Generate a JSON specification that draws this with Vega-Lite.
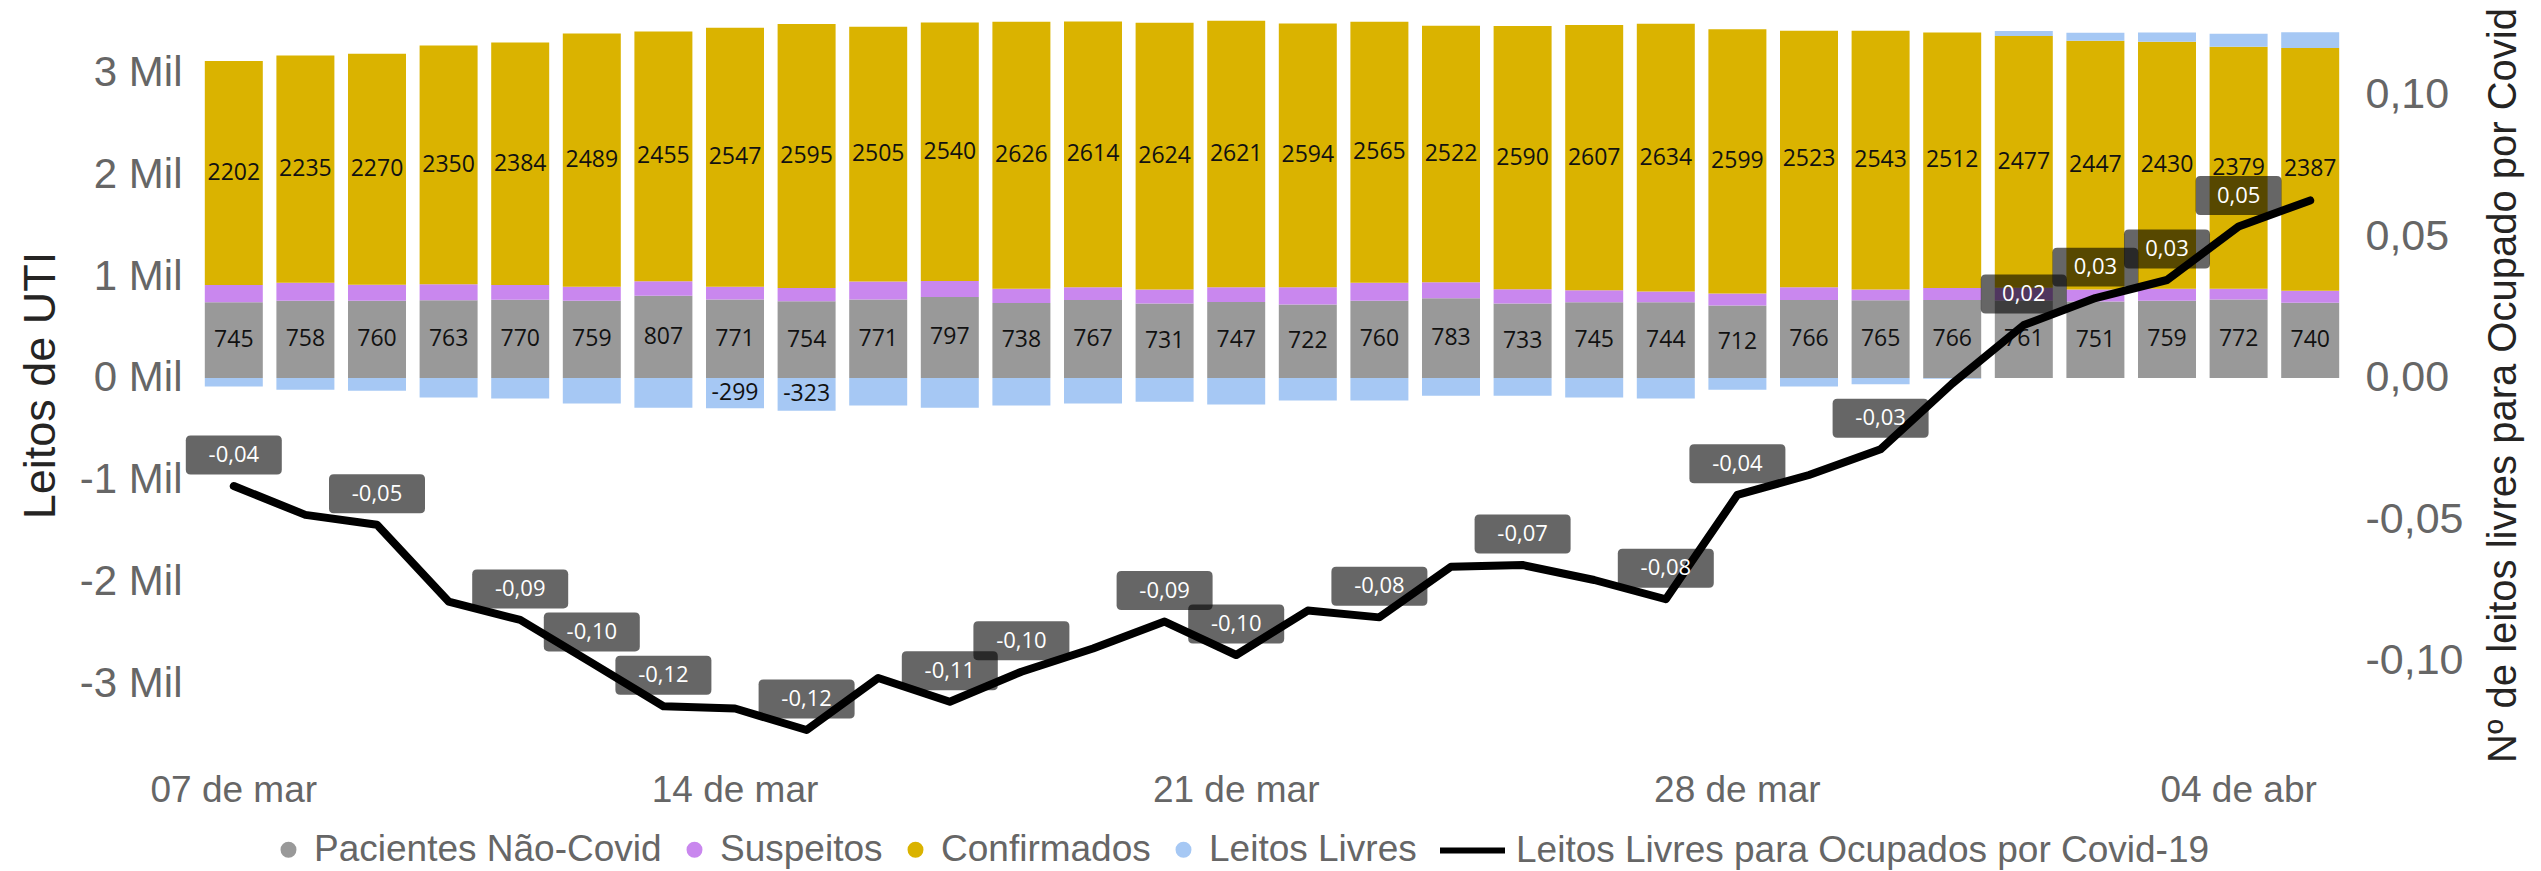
{
  "$schema": "https://vega.github.io/schema/vega-lite/v6.json",
  "width": 2148,
  "height": 750,
  "autosize": {"type": "none"},
  "padding": {"left": 198, "top": 10, "right": 195, "bottom": 111},
  "background": "white",
  "config": {
    "view": {"stroke": null},
    "font": "Liberation Sans",
    "locale": {"number": {"decimal": ",", "thousands": ".", "grouping": [3], "currency": ["R$", ""], "minus": "-"}}
  },
  "data": {"values": [
    {"dia": "07 de mar", "Pacientes Não-Covid": 745, "Suspeitos": 170, "Confirmados": 2202, "Leitos Livres": -85, "razao": -0.0382, "rotulo": true},
    {"dia": "08 de mar", "Pacientes Não-Covid": 758, "Suspeitos": 177, "Confirmados": 2235, "Leitos Livres": -115, "razao": -0.0484, "rotulo": false},
    {"dia": "09 de mar", "Pacientes Não-Covid": 760, "Suspeitos": 157, "Confirmados": 2270, "Leitos Livres": -125, "razao": -0.0519, "rotulo": true},
    {"dia": "10 de mar", "Pacientes Não-Covid": 763, "Suspeitos": 157, "Confirmados": 2350, "Leitos Livres": -193, "razao": -0.0790, "rotulo": false},
    {"dia": "11 de mar", "Pacientes Não-Covid": 770, "Suspeitos": 144, "Confirmados": 2384, "Leitos Livres": -203, "razao": -0.0855, "rotulo": true},
    {"dia": "12 de mar", "Pacientes Não-Covid": 759, "Suspeitos": 138, "Confirmados": 2489, "Leitos Livres": -252, "razao": -0.1007, "rotulo": true},
    {"dia": "13 de mar", "Pacientes Não-Covid": 807, "Suspeitos": 144, "Confirmados": 2455, "Leitos Livres": -292, "razao": -0.1160, "rotulo": true},
    {"dia": "14 de mar", "Pacientes Não-Covid": 771, "Suspeitos": 125, "Confirmados": 2547, "Leitos Livres": -299, "razao": -0.1168, "rotulo": false},
    {"dia": "15 de mar", "Pacientes Não-Covid": 754, "Suspeitos": 131, "Confirmados": 2595, "Leitos Livres": -323, "razao": -0.1244, "rotulo": true},
    {"dia": "16 de mar", "Pacientes Não-Covid": 771, "Suspeitos": 177, "Confirmados": 2505, "Leitos Livres": -272, "razao": -0.1060, "rotulo": false},
    {"dia": "17 de mar", "Pacientes Não-Covid": 797, "Suspeitos": 157, "Confirmados": 2540, "Leitos Livres": -292, "razao": -0.1144, "rotulo": true},
    {"dia": "18 de mar", "Pacientes Não-Covid": 738, "Suspeitos": 138, "Confirmados": 2626, "Leitos Livres": -272, "razao": -0.1038, "rotulo": true},
    {"dia": "19 de mar", "Pacientes Não-Covid": 767, "Suspeitos": 125, "Confirmados": 2614, "Leitos Livres": -252, "razao": -0.0956, "rotulo": false},
    {"dia": "20 de mar", "Pacientes Não-Covid": 731, "Suspeitos": 138, "Confirmados": 2624, "Leitos Livres": -233, "razao": -0.0861, "rotulo": true},
    {"dia": "21 de mar", "Pacientes Não-Covid": 747, "Suspeitos": 144, "Confirmados": 2621, "Leitos Livres": -262, "razao": -0.0979, "rotulo": true},
    {"dia": "22 de mar", "Pacientes Não-Covid": 722, "Suspeitos": 170, "Confirmados": 2594, "Leitos Livres": -223, "razao": -0.0822, "rotulo": false},
    {"dia": "23 de mar", "Pacientes Não-Covid": 760, "Suspeitos": 177, "Confirmados": 2565, "Leitos Livres": -223, "razao": -0.0846, "rotulo": true},
    {"dia": "24 de mar", "Pacientes Não-Covid": 783, "Suspeitos": 157, "Confirmados": 2522, "Leitos Livres": -174, "razao": -0.0667, "rotulo": false},
    {"dia": "25 de mar", "Pacientes Não-Covid": 733, "Suspeitos": 138, "Confirmados": 2590, "Leitos Livres": -174, "razao": -0.0661, "rotulo": true},
    {"dia": "26 de mar", "Pacientes Não-Covid": 745, "Suspeitos": 118, "Confirmados": 2607, "Leitos Livres": -193, "razao": -0.0714, "rotulo": false},
    {"dia": "27 de mar", "Pacientes Não-Covid": 744, "Suspeitos": 105, "Confirmados": 2634, "Leitos Livres": -203, "razao": -0.0782, "rotulo": true},
    {"dia": "28 de mar", "Pacientes Não-Covid": 712, "Suspeitos": 118, "Confirmados": 2599, "Leitos Livres": -115, "razao": -0.0413, "rotulo": true},
    {"dia": "29 de mar", "Pacientes Não-Covid": 766, "Suspeitos": 125, "Confirmados": 2523, "Leitos Livres": -85, "razao": -0.0343, "rotulo": false},
    {"dia": "30 de mar", "Pacientes Não-Covid": 765, "Suspeitos": 105, "Confirmados": 2543, "Leitos Livres": -62, "razao": -0.0252, "rotulo": true},
    {"dia": "31 de mar", "Pacientes Não-Covid": 766, "Suspeitos": 118, "Confirmados": 2512, "Leitos Livres": -8, "razao": -0.0020, "rotulo": false},
    {"dia": "01 de abr", "Pacientes Não-Covid": 761, "Suspeitos": 125, "Confirmados": 2477, "Leitos Livres": 49, "razao": 0.0187, "rotulo": true},
    {"dia": "02 de abr", "Pacientes Não-Covid": 751, "Suspeitos": 118, "Confirmados": 2447, "Leitos Livres": 79, "razao": 0.0282, "rotulo": true},
    {"dia": "03 de abr", "Pacientes Não-Covid": 759, "Suspeitos": 118, "Confirmados": 2430, "Leitos Livres": 89, "razao": 0.0346, "rotulo": true},
    {"dia": "04 de abr", "Pacientes Não-Covid": 772, "Suspeitos": 105, "Confirmados": 2379, "Leitos Livres": 128, "razao": 0.0535, "rotulo": true},
    {"dia": "05 de abr", "Pacientes Não-Covid": 740, "Suspeitos": 118, "Confirmados": 2387, "Leitos Livres": 155, "razao": 0.0627, "rotulo": false}
  ]},
  "layer": [
    {
      "transform": [
        {"fold": ["Pacientes Não-Covid", "Suspeitos", "Confirmados", "Leitos Livres"], "as": ["serie", "valor"]},
        {"calculate": "indexof(['Pacientes Não-Covid', 'Suspeitos', 'Confirmados', 'Leitos Livres'], datum.serie)", "as": "ordem"},
        {"stack": "valor", "groupby": ["dia"], "sort": [{"field": "ordem", "order": "ascending"}], "as": ["v0", "v1"], "offset": "zero"},
        {"calculate": "(datum.v0 + datum.v1) / 2", "as": "meio"}
      ],
      "layer": [
        {
          "mark": {"type": "bar"},
          "encoding": {
            "x": {
              "field": "dia", "type": "nominal", "sort": null,
              "scale": {"paddingInner": 0.19, "paddingOuter": 0.095},
              "axis": {
                "title": null,
                "values": ["07 de mar", "14 de mar", "21 de mar", "28 de mar", "04 de abr"],
                "labelAngle": 0, "labelFontSize": 37, "labelColor": "#666666",
                "ticks": false, "domain": false, "labelPadding": 12
              }
            },
            "y": {
              "field": "v0", "type": "quantitative",
              "scale": {"domain": [-3757, 3618], "nice": false, "zero": false},
              "axis": {
                "title": "Leitos de UTI",
                "values": [-3000, -2000, -1000, 0, 1000, 2000, 3000],
                "labelExpr": "format(datum.value / 1000, 'd') + ' Mil'",
                "labelFontSize": 42, "labelColor": "#666666",
                "grid": false, "ticks": false, "domain": false, "labelPadding": 16,
                "titleFontSize": 45, "titleColor": "#252423", "titleFontWeight": "normal", "titlePadding": 16
              }
            },
            "y2": {"field": "v1"},
            "color": {
              "field": "serie", "type": "nominal",
              "scale": {
                "domain": ["Pacientes Não-Covid", "Suspeitos", "Confirmados", "Leitos Livres"],
                "range": ["#999999", "#C987EE", "#DAB300", "#A6C8F4"]
              },
              "legend": {
                "orient": "none", "legendX": 72, "legendY": 821, "direction": "horizontal",
                "title": null, "symbolType": "circle", "symbolSize": 254, "symbolStrokeWidth": 0,
                "labelFontSize": 37, "labelColor": "#666666", "labelOffset": 7,
                "columnPadding": 14, "labelLimit": 1000
              }
            }
          }
        },
        {
          "transform": [{"filter": "datum.serie == 'Pacientes Não-Covid' || datum.serie == 'Confirmados' || datum.valor <= -295"}],
          "mark": {"type": "text", "fontSize": 23, "font": "Open Sans", "color": "#111111", "baseline": "middle"},
          "encoding": {
            "x": {"field": "dia", "type": "nominal", "sort": null},
            "y": {"field": "meio", "type": "quantitative"},
            "text": {"field": "valor", "type": "quantitative", "format": "d"}
          }
        }
      ]
    },
    {
      "layer": [
        {
          "mark": {"type": "line", "strokeWidth": 8, "strokeCap": "round", "strokeJoin": "round"},
          "encoding": {
            "x": {"field": "dia", "type": "nominal", "sort": null},
            "y": {
              "field": "razao", "type": "quantitative",
              "scale": {"domain": [-0.135, 0.130], "nice": false, "zero": false},
              "axis": {
                "orient": "right",
                "title": "Nº de leitos livres para Ocupado por Covid",
                "values": [-0.1, -0.05, 0, 0.05, 0.1],
                "format": ".2f",
                "labelFontSize": 43, "labelColor": "#666666",
                "grid": false, "ticks": false, "domain": false, "labelPadding": 19,
                "titleFontSize": 40, "titleColor": "#252423", "titleFontWeight": "normal",
                "titleAngle": 270, "titlePadding": 60
              }
            },
            "stroke": {
              "datum": "Leitos Livres para Ocupados por Covid-19", "type": "nominal",
              "scale": {"range": ["#000000"]},
              "legend": {
                "orient": "none", "legendX": 1239, "legendY": 805,
                "title": null, "symbolType": "stroke", "symbolSize": 4225, "symbolStrokeWidth": 6,
                "labelFontSize": 37, "labelColor": "#666666", "labelOffset": 8, "labelLimit": 1000
              }
            }
          }
        },
        {
          "transform": [{"filter": "datum.rotulo"}],
          "mark": {"type": "point", "filled": true, "color": "#000000", "opacity": 0.6, "size": 9216, "yOffset": -31, "strokeWidth": 0},
          "encoding": {
            "x": {"field": "dia", "type": "nominal", "sort": null},
            "y": {"field": "razao", "type": "quantitative"},
            "shape": {
              "condition": {"test": "datum.razao < 0", "value": "M-0.9,-0.406H0.9Q1,-0.406 1,-0.306V0.306Q1,0.406 0.9,0.406H-0.9Q-1,0.406 -1,0.306V-0.306Q-1,-0.406 -0.9,-0.406Z"},
              "value": "M-0.796,-0.406H0.796Q0.896,-0.406 0.896,-0.306V0.306Q0.896,0.406 0.796,0.406H-0.796Q-0.896,0.406 -0.896,0.306V-0.306Q-0.896,-0.406 -0.796,-0.406Z"
            }
          }
        },
        {
          "transform": [{"filter": "datum.rotulo"}],
          "mark": {"type": "text", "color": "#FFFFFF", "fontSize": 22, "font": "Open Sans", "baseline": "middle", "yOffset": -31},
          "encoding": {
            "x": {"field": "dia", "type": "nominal", "sort": null},
            "y": {"field": "razao", "type": "quantitative"},
            "text": {"field": "razao", "type": "quantitative", "format": ".2f"}
          }
        }
      ]
    }
  ],
  "resolve": {"scale": {"y": "independent"}}
}
